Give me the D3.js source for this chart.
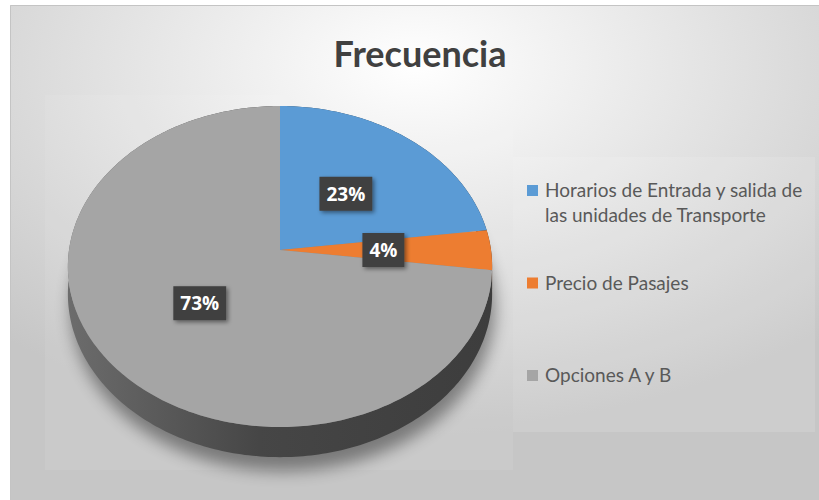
<!DOCTYPE html>
<html>
<head>
<meta charset="utf-8">
<script src="https://cdn.jsdelivr.net/npm/d3@7"></script>
<style>
  body { margin: 0; background: #fff; }
  svg { display: block; }
</style>
</head>
<body>
<svg id="chart" width="819" height="500"></svg>
<script>
// datos del grafico
var categorias = ["Horarios de Entrada y salida de las unidades de Transporte", "Precio de Pasajes", "Opciones A y B"];
var valores = [23, 4, 73];
var cores = ["#5B9BD5", "#ED7D31", "#A5A5A5"];
var titulo = "Frecuencia";

var svg = d3.select("#chart");
var defs = svg.append("defs");

// fondo con degradado
var bg = defs.append("radialGradient").attr("id", "bg")
    .attr("cx", "50%").attr("cy", "12%").attr("r", "75%");
bg.append("stop").attr("offset", "0%").attr("stop-color", "#ffffff");
bg.append("stop").attr("offset", "100%").attr("stop-color", "#c6c6c6");

svg.append("rect").attr("x", 10).attr("y", 5).attr("width", 809).attr("height", 495)
    .style("fill", "url(#bg)");
svg.append("path").attr("d", "M10.5,500V5.5H819")
    .style("fill", "none").style("stroke", "#c4c4c4");

// area de grafico y leyenda (apenas mas claras)
svg.append("rect").attr("x", 45).attr("y", 95).attr("width", 468).attr("height", 375)
    .style("fill", "#fff").style("opacity", 0.07);
svg.append("rect").attr("x", 513).attr("y", 157).attr("width", 302).attr("height", 275)
    .style("fill", "#fff").style("opacity", 0.12);

// titulo
svg.append("text").attr("x", 420).attr("y", 67)
    .attr("text-anchor", "middle")
    .style("font-family", "Lato, 'Open Sans', sans-serif")
    .style("font-size", "36px")
    .style("font-weight", "bold")
    .style("fill", "#404040")
    .text(titulo);

// pastel 3D con perspectiva
var cx = 280, cy = 250, R = 211, Ry = 158.8, H = 27, k = 0.103;

function proj(a, r, z) {
    var u = r * Math.sin(a), v = -r * Math.cos(a);
    var s = 1 / (1 - k * v);
    return [cx + R * u * s, cy + (Ry * v + H * z) * s];
}

function arco(a0, a1, z) {
    var pts = [];
    var n = Math.max(4, Math.ceil((a1 - a0) * 60));
    for (var i = 0; i <= n; i++) {
        pts.push(proj(a0 + (a1 - a0) * i / n, 1, z));
    }
    return pts;
}

var linea = d3.line();
var pie = d3.pie().sort(null).value(function (d) { return d; });
var slices = pie(valores);

// sombra
var sh = defs.append("filter").attr("id", "sombra")
    .attr("x", "-20%").attr("y", "-20%").attr("width", "140%").attr("height", "140%");
sh.append("feGaussianBlur").attr("stdDeviation", 8);
svg.append("path")
    .attr("d", linea(arco(0, 2 * Math.PI, 1.3)) + "Z")
    .attr("transform", "translate(3,5)")
    .style("fill", "#000").style("opacity", 0.4)
    .attr("filter", "url(#sombra)");

// degradados de los lados
slices.forEach(function (d, i) {
    var c = d3.color(cores[i]);
    var g = defs.append("linearGradient").attr("id", "lado" + i)
        .attr("gradientUnits", "userSpaceOnUse")
        .attr("x1", cx - R).attr("x2", cx + R).attr("y1", 0).attr("y2", 0);
    g.append("stop").attr("offset", "0%").attr("stop-color", c.darker(1.2));
    g.append("stop").attr("offset", "45%").attr("stop-color", c.darker(2.4));
    g.append("stop").attr("offset", "100%").attr("stop-color", c.darker(2.8));
});

// lados
svg.selectAll(".lado")
    .data(slices)
    .enter()
    .append("path")
    .attr("class", "lado")
    .attr("d", function (d) {
        var top = arco(d.startAngle, d.endAngle, 0);
        var bot = arco(d.startAngle, d.endAngle, 1).reverse();
        return linea(top.concat(bot)) + "Z";
    })
    .style("fill", function (d, i) { return "url(#lado" + i + ")"; });

// caras superiores
svg.selectAll(".cara")
    .data(slices)
    .enter()
    .append("path")
    .attr("class", "cara")
    .attr("d", function (d) {
        return linea([proj(0, 0, 0)].concat(arco(d.startAngle, d.endAngle, 0))) + "Z";
    })
    .style("fill", function (d, i) { return cores[i]; });

// etiquetas
var ls = defs.append("filter").attr("id", "somb2")
    .attr("x", "-30%").attr("y", "-30%").attr("width", "160%").attr("height", "160%");
ls.append("feDropShadow").attr("dx", 2).attr("dy", 2).attr("stdDeviation", 2)
    .attr("flood-color", "#000").attr("flood-opacity", 0.45);

var total = d3.sum(valores);
var etiquetas = svg.selectAll(".etq")
    .data(slices)
    .enter()
    .append("g")
    .attr("class", "etq")
    .attr("transform", function (d) {
        var p = proj((d.startAngle + d.endAngle) / 2, 0.49, 0);
        return "translate(" + p[0] + "," + p[1] + ")";
    });

etiquetas.append("text")
    .attr("text-anchor", "middle")
    .attr("dy", "0.36em")
    .style("font-family", "'Open Sans', sans-serif")
    .style("font-weight", "bold")
    .style("font-size", "19px")
    .style("fill", "#fff")
    .text(function (d) { return Math.round(d.value / total * 100) + "%"; });

etiquetas.each(function () {
    var g = d3.select(this);
    var b = g.select("text").node().getBBox();
    g.insert("rect", "text")
        .attr("x", b.x - 7).attr("y", -17)
        .attr("width", b.width + 14).attr("height", 34)
        .style("fill", "#404040")
        .attr("filter", "url(#somb2)");
});

// leyenda
var ly = d3.scaleLinear().domain([0, 1]).range([180, 272.5]);
var leyenda = svg.selectAll(".ley")
    .data(categorias)
    .enter()
    .append("g")
    .attr("class", "ley")
    .attr("transform", function (d, i) { return "translate(527," + ly(i) + ")"; });

leyenda.append("rect")
    .attr("x", 0).attr("y", 5).attr("width", 11).attr("height", 11)
    .style("fill", function (d, i) { return cores[i]; });

leyenda.append("text")
    .attr("x", 18).attr("y", 17)
    .style("font-family", "Lato, 'Open Sans', sans-serif")
    .style("font-size", "19px")
    .style("fill", "#595959")
    .each(function (d) {
        var t = d3.select(this);
        var palabras = d.split(" ");
        var linea1 = [];
        var ts = t.append("tspan").attr("x", 18);
        palabras.forEach(function (w) {
            linea1.push(w);
            ts.text(linea1.join(" "));
            if (ts.node().getComputedTextLength() > 272 && linea1.length > 1) {
                linea1.pop();
                ts.text(linea1.join(" "));
                linea1 = [w];
                ts = t.append("tspan").attr("x", 18).attr("dy", 25).text(w);
            }
        });
    });
</script>
</body>
</html>
